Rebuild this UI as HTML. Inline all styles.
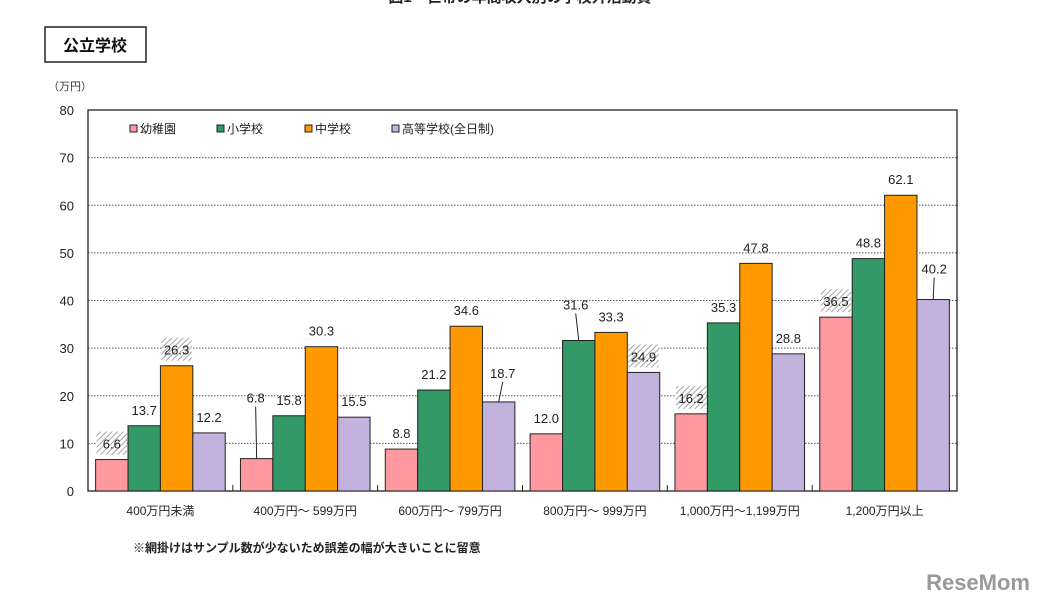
<!DOCTYPE html>
<html><head><meta charset="utf-8">
<style>
body{margin:0;background:#fff;width:1047px;height:605px;overflow:hidden;font-family:"Liberation Sans","Noto Sans CJK JP",sans-serif;}
svg text{font-family:"Liberation Sans","Noto Sans CJK JP",sans-serif;}
</style></head><body>
<svg width="1047" height="605" viewBox="0 0 1047 605">
<defs>
<pattern id="hatch" width="4" height="4" patternUnits="userSpaceOnUse" patternTransform="rotate(45)">
<rect width="4" height="4" fill="#fff"/><line x1="0" y1="0" x2="0" y2="4" stroke="#999" stroke-width="1.8"/>
</pattern>
</defs>
<text x="520" y="2" font-size="15" font-weight="bold" fill="#222" text-anchor="middle">図1　世帯の年間収入別の学校外活動費</text>
<rect x="45" y="27" width="101" height="35" fill="#fff" stroke="#222" stroke-width="1.5"/>
<text x="95" y="51" font-size="16" font-weight="bold" text-anchor="middle" fill="#111">公立学校</text>
<text x="48" y="90" font-size="11" fill="#333">（万円）</text>
<g id="grid"></g>
<rect x="88" y="110" width="869" height="381" fill="none" stroke="#222" stroke-width="1.3"/>
<g id="bars"></g>
<g id="legend"></g>
<text x="133" y="552" font-size="12" font-weight="bold" fill="#222">※網掛けはサンプル数が少ないため誤差の幅が大きいことに留意</text>
<text x="1030" y="590" font-size="22" font-weight="bold" fill="#999" text-anchor="end">ReseMom</text>
</svg>
<script>
const categories=["400万円未満","400万円～ 599万円","600万円～ 799万円","800万円～ 999万円","1,000万円～1,199万円","1,200万円以上"];
const seriesNames=["幼稚園","小学校","中学校","高等学校(全日制)"];
const kindergarten=[6.6,6.8,8.8,12.0,16.2,36.5];
const elementary=[13.7,15.8,21.2,31.6,35.3,48.8];
const juniorHigh=[26.3,30.3,34.6,33.3,47.8,62.1];
const highSchool=[12.2,15.5,18.7,24.9,28.8,40.2];
const hatched=[[0,0],[0,2],[3,3],[4,0],[5,0]];
const yTicks=[0,10,20,30,40,50,60,70,80];
const series=[kindergarten,elementary,juniorHigh,highSchool];
const colors=["#ff99a0","#339966","#ff9900","#c3b1de"];
const X0=88,X1=957,Y0=491,Y1=110,YMAX=80;
const y=v=>Y0-(v/YMAX)*(Y0-Y1);
const gw=(X1-X0)/categories.length,bw=32.4,pad=(gw-4*bw)/2;
const bx=(g,s)=>X0+g*gw+pad+s*bw;
const NS="http://www.w3.org/2000/svg";
function mk(t,a,p){const e=document.createElementNS(NS,t);for(const k in a)e.setAttribute(k,a[k]);p.appendChild(e);return e;}
const grid=document.getElementById('grid'),bars=document.getElementById('bars'),leg=document.getElementById('legend');
yTicks.forEach(t=>{
 if(t>0&&t<YMAX){const l=mk('line',{x1:X0,x2:X1,y1:y(t),y2:y(t),stroke:'#555','stroke-dasharray':'1.5 1.5','stroke-width':1},grid);
 
 }
 const tx=mk('text',{x:74,y:y(t)+5,'font-size':13,'text-anchor':'end',fill:'#222'},grid);tx.textContent=t;
 
 
});
categories.forEach((c,g)=>{
 if(g>0){const l=mk('line',{x1:X0+g*gw,x2:X0+g*gw,y1:Y0,y2:Y0-6,stroke:'#222'},grid);
 
 }
 const t=mk('text',{x:X0+g*gw+gw/2,y:515,'font-size':12,'text-anchor':'middle',fill:'#222'},grid);t.textContent=c;
 
 
});
const isH=(g,s)=>hatched.some(h=>h[0]===g&&h[1]===s);
// label placement tweaks (pixels, not data): [dx, label-centre offset]
const lift={"1,0":[-1,-61],"2,3":[4,-29],"3,1":[-3,-36],"5,3":[1,-31]};
series.forEach((arr,s)=>{
 arr.forEach((v,g)=>{
  const x=bx(g,s);
  const r=mk('rect',{x:x,y:y(v),width:bw,height:Y0-y(v),fill:colors[s],stroke:'#222','stroke-width':1},bars);
  
  
  const o=lift[g+','+s]||[0,-16];
  const cx=x+bw/2+o[0],cy=y(v)+o[1];
  if(lift[g+','+s]){const ln=mk('line',{x1:x+bw/2,y1:y(v),x2:cx,y2:cy+9,stroke:'#222'},bars);
   
   }
  if(isH(g,s)){const h=mk('rect',{x:x+1,y:cy-12,width:bw-2,height:23,fill:'url(#hatch)'},bars);
   
   }
  const t=mk('text',{x:cx,y:cy+5,'font-size':13,'text-anchor':'middle',fill:'#222'},bars);t.textContent=v.toFixed(1);
  
  
 });
});
const lx=[130,217,305,392];
seriesNames.forEach((n,i)=>{
 const r=mk('rect',{x:lx[i],y:125,width:7,height:7,fill:colors[i],stroke:'#222'},leg);
 
 
 const t=mk('text',{x:lx[i]+10,y:133,'font-size':12,fill:'#222'},leg);t.textContent=n;
 
 
});
</script>
</body></html>
